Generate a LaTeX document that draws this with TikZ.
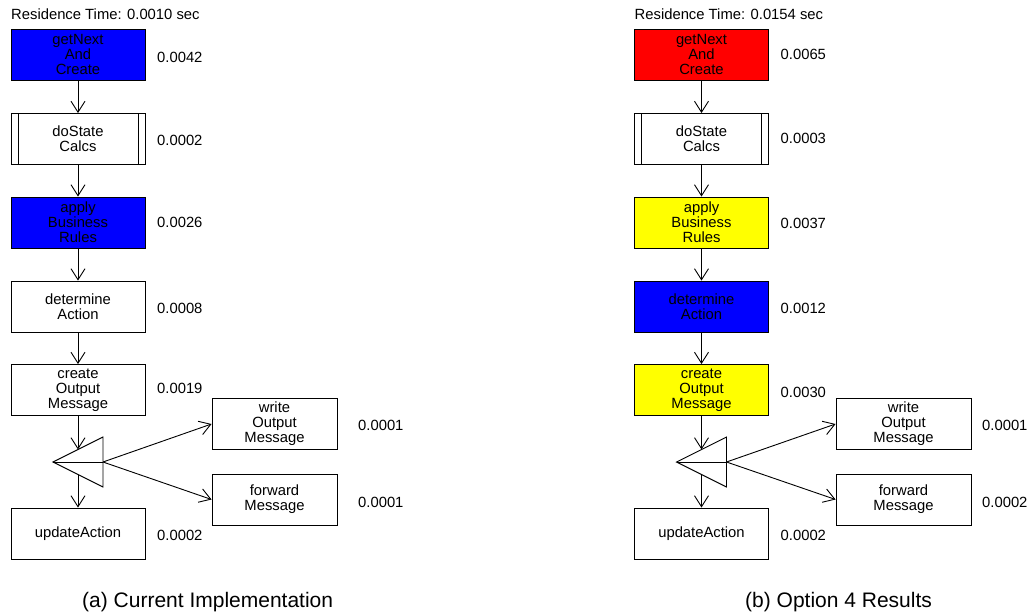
\documentclass[tikz,border=0pt]{standalone}
\usepackage{fontspec}
\setmainfont{Liberation Sans}
\usetikzlibrary{arrows.meta}
\newcommand\smallfs{\fontsize{14.8}{15}\selectfont}
\newcommand\capfs{\fontsize{21}{24}\selectfont}
\definecolor{boxblue}{RGB}{0,0,255}
\definecolor{boxred}{RGB}{255,0,0}
\definecolor{boxyellow}{RGB}{255,255,0}
\begin{document}
\begin{tikzpicture}[x=1pt,y=-1pt,
  proc/.style={draw=black, line width=0.9pt, minimum width=134pt, minimum height=51pt,
    inner sep=0pt, align=center, font=\smallfs},
  side/.style={proc, minimum width=125pt},
  wideside/.style={proc, minimum width=135pt},
  num/.style={anchor=west, inner sep=0pt, font=\smallfs},
  flow/.style={-{Straight Barb[length=11pt,width=14pt,line width=0.9pt]}, line width=0.9pt},
  tri/.style={draw, line width=0.9pt, line join=miter},
  inner/.style={line width=0.9pt},
  capt/.style={anchor=base west, inner sep=0pt, font=\capfs},
  restime/.style={anchor=west, inner sep=0pt, font=\smallfs}]
\useasboundingbox (0,0) rectangle (1029,615);

% ---------------- left column ----------------
\node[restime] (aR) at (11,14) {Residence Time: 0.0010 sec};
\node[proc, fill=boxblue] (a1) at (78,54.5) {getNext\\And\\Create};
\node[proc] (a2) at (78,139) {doState\\Calcs};
\draw[inner] ([xshift=7.5pt]a2.north west) -- ([xshift=7.5pt]a2.south west);
\draw[inner] ([xshift=-7.5pt]a2.north east) -- ([xshift=-7.5pt]a2.south east);
\node[proc, fill=boxblue] (a3) at (78,222.5) {apply\\Business\\Rules};
\node[proc] (a4) at (78,306.5) {determine\\Action};
\node[proc] (a5) at (78,390) {create\\Output\\Message};
\node[proc] (a6) at (78,533.5) {updateAction};
\node[side] (a7) at (274.5,424) {write\\Output\\Message};
\node[side] (a8) at (274.5,499.5) {forward\\Message};

\coordinate (aA) at (53,462);
\coordinate (aT) at (103,437);
\coordinate (aB) at (103,487);
\coordinate (aM) at (103,462);
\coordinate (aU) at (78,449.5);
\coordinate (aL) at (78,474.5);
\draw[tri] (aA) -- (aT) -- (aB) -- cycle;
\draw[tri] (aA) -- (aM);

\draw[flow] (a1) -- (a2);
\draw[flow] (a2) -- (a3);
\draw[flow] (a3) -- (a4);
\draw[flow] (a4) -- (a5);
\draw[flow] (a5) -- (aU);
\draw[flow] (aL) -- (a6);
\draw[flow] (aM) -- (a7.west);
\draw[flow] (aM) -- (a8.west);

\node[num] (an1) at (157,57) {0.0042};
\node[num] (an2) at (157,140) {0.0002};
\node[num] (an3) at (157,222) {0.0026};
\node[num] (an4) at (157,308) {0.0008};
\node[num] (an5) at (157,388) {0.0019};
\node[num] (an6) at (157,535) {0.0002};
\node[num] (an7) at (358,425) {0.0001};
\node[num] (an8) at (358,502) {0.0001};

\node[capt] (aC) at (82,607) {(a) Current Implementation};

% ---------------- right column ----------------
\begin{scope}[xshift=623.5pt]
\node[restime] (bR) at (11,14) {Residence Time: 0.0154 sec};
\node[proc, fill=boxred] (b1) at (78,54.5) {getNext\\And\\Create};
\node[proc] (b2) at (78,139) {doState\\Calcs};
\draw[inner] ([xshift=7.5pt]b2.north west) -- ([xshift=7.5pt]b2.south west);
\draw[inner] ([xshift=-7.5pt]b2.north east) -- ([xshift=-7.5pt]b2.south east);
\node[proc, fill=boxyellow] (b3) at (78,222.5) {apply\\Business\\Rules};
\node[proc, fill=boxblue] (b4) at (78,306.5) {determine\\Action};
\node[proc, fill=boxyellow] (b5) at (78,390) {create\\Output\\Message};
\node[proc] (b6) at (78,533.5) {updateAction};
\node[wideside] (b7) at (280,424) {write\\Output\\Message};
\node[wideside] (b8) at (280,499.5) {forward\\Message};

\coordinate (bA) at (53,462);
\coordinate (bT) at (103,437);
\coordinate (bB) at (103,487);
\coordinate (bM) at (103,462);
\coordinate (bU) at (78,449.5);
\coordinate (bL) at (78,474.5);
\draw[tri] (bA) -- (bT) -- (bB) -- cycle;
\draw[tri] (bA) -- (bM);

\draw[flow] (b1) -- (b2);
\draw[flow] (b2) -- (b3);
\draw[flow] (b3) -- (b4);
\draw[flow] (b4) -- (b5);
\draw[flow] (b5) -- (bU);
\draw[flow] (bL) -- (b6);
\draw[flow] (bM) -- (b7.west);
\draw[flow] (bM) -- (b8.west);

\node[num] (bn1) at (157,54) {0.0065};
\node[num] (bn2) at (157,138) {0.0003};
\node[num] (bn3) at (157,223) {0.0037};
\node[num] (bn4) at (157,308) {0.0012};
\node[num] (bn5) at (157,392) {0.0030};
\node[num] (bn6) at (157,535) {0.0002};
\node[num] (bn7) at (358.5,425) {0.0001};
\node[num] (bn8) at (358.5,502) {0.0002};

\node[capt] (bC) at (121.5,607) {(b) Option 4 Results};
\end{scope}
\end{tikzpicture}
\end{document}
